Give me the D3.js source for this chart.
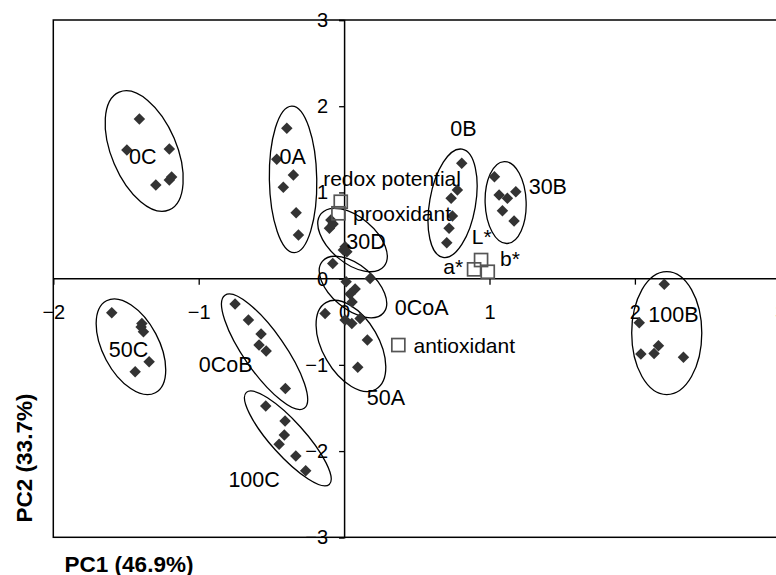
<!DOCTYPE html>
<html><head><meta charset="utf-8">
<script src="https://cdn.jsdelivr.net/npm/d3@7"></script>
<style>body{margin:0;background:#fff}svg{display:block}text{font-family:"Liberation Sans",Arial,sans-serif}</style>
</head><body><svg id="c" width="776" height="575"></svg>
<script>
// ---- data ----
const xTicks = [-2, -1, 0, 1, 2, 3];
const yTicks = [-3, -2, -1, 0, 1, 2, 3];
const xTitle = "PC1 (46.9%)";
const yTitle = "PC2 (33.7%)";

// sample scores [PC1, PC2] per group
const groups = ["0C","0A","0B","30B","30D","0CoA","50A","50C","0CoB","100C","100B"];
const scores_0C   = [[-1.408,1.852],[-1.494,1.492],[-1.202,1.503],[-1.295,1.086],[-1.202,1.144],[-1.186,1.179]];
const scores_0A   = [[-0.394,1.744],[-0.463,1.384],[-0.349,1.202],[-0.418,1.059],[-0.330,0.765],[-0.314,0.506]];
const scores_0B   = [[0.809,1.338],[0.779,1.028],[0.736,0.932],[0.745,0.726],[0.722,0.584],[0.706,0.416]];
const scores_30B  = [[1.034,1.182],[1.066,0.970],[1.123,0.932],[1.181,1.008],[1.089,0.788],[1.169,0.668]];
const scores_30D  = [[-0.091,0.680],[-0.101,0.584],[-0.076,0.633],[0.007,0.370],[-0.005,0.332],[0.019,0.312]];
const scores_0CoA = [[-0.078,0.177],[0.014,-0.036],[0.179,0.003],[0.076,-0.121],[0.041,-0.179],[0.055,-0.271]];
const scores_50A  = [[-0.131,-0.403],[0.007,-0.480],[0.053,-0.519],[0.110,-0.461],[0.160,-0.712],[0.094,-1.029]];
const scores_50C  = [[-1.598,-0.396],[-1.391,-0.519],[-1.380,-0.616],[-1.396,-0.561],[-1.341,-0.964],[-1.437,-1.080]];
const scores_0CoB = [[-0.750,-0.295],[-0.658,-0.480],[-0.571,-0.643],[-0.585,-0.770],[-0.536,-0.840],[-0.404,-1.273]];
const scores_100C = [[-0.539,-1.478],[-0.406,-1.652],[-0.411,-1.814],[-0.447,-1.922],[-0.332,-2.058],[-0.264,-2.229]];
const scores_100B = [[2.202,-0.066],[2.030,-0.512],[2.162,-0.778],[2.132,-0.867],[2.041,-0.875],[2.334,-0.913]];
const allScores = [scores_0C,scores_0A,scores_0B,scores_30B,scores_30D,scores_0CoA,scores_50A,scores_50C,scores_0CoB,scores_100C,scores_100B];

// group label anchor (data coords)
const groupLabelPos = [[-1.384,1.414],[-0.353,1.414],[0.821,1.736],[1.401,1.066],[0.151,0.425],[0.534,-0.345],[0.288,-1.389],[-1.483,-0.828],[-0.814,-1.002],[-0.619,-2.336],[2.265,-0.422]];

// group ellipses: centre (data), semi-axes (PC1 units), angle (deg)
const ellCenter = [[-1.375,1.480],[-0.351,1.152],[0.746,0.874],[1.111,0.883],[0.058,0.448],[0.061,-0.097],[0.047,-0.780],[-1.466,-0.790],[-0.547,-0.848],[-0.387,-1.853],[2.219,-0.631]];
const ellSemiA  = [0.440,0.504,0.378,0.282,0.282,0.275,0.344,0.358,0.475,0.426,0.423];
const ellSemiB  = [0.224,0.163,0.158,0.141,0.158,0.151,0.193,0.193,0.141,0.117,0.241];
const ellAngle  = [67,89,100,88,40,40,60,62,55,48,90];

// variable loadings
const loadNames = ["redox potential","prooxidant","L*","a*","b*","antioxidant"];
const loadVals  = [[-0.023,0.892],[-0.039,0.758],[0.942,0.216],[0.894,0.108],[0.988,0.080],[0.373,-0.770]];
const loadLabelPos = [[-0.144,1.163],[0.061,0.758],[0.947,0.486],[0.750,0.138],[1.141,0.239],[0.477,-0.770]];
const loadLabelAnchor = ["start","start","middle","middle","middle","start"];

// ---- chart ----
const svg = d3.select("#c");
const x = d3.scaleLinear().domain([-2,3]).range([53.3,780.3]);
const y = d3.scaleLinear().domain([-3,3]).range([537.3,20]);
const ux = v => x(v) - x(0);
const ink = "#000";

// frame
svg.append("rect").attr("x",x(-2)).attr("y",y(3)).attr("width",x(3)-x(-2)).attr("height",y(-3)-y(3))
  .attr("fill","none").attr("stroke",ink).attr("stroke-width",1.5);

// axes through origin
const xAxis = d3.axisBottom(x).tickValues(xTicks).tickSize(6).tickPadding(20).tickFormat(d3.format("d"));
const gx = svg.append("g").attr("transform",`translate(0,${y(0)})`).call(xAxis);
const yAxis = d3.axisLeft(y).tickValues(yTicks).tickSize(5).tickPadding(11).tickFormat(d3.format("d"));
const gy = svg.append("g").attr("transform",`translate(${x(0)},0)`).call(yAxis);
[gx,gy].forEach(g=>{
  g.select(".domain").attr("stroke",ink).attr("stroke-width",1.5);
  g.selectAll(".tick line").attr("stroke",ink).attr("stroke-width",1.3);
  g.selectAll(".tick text").attr("font-size",20).attr("fill",ink).attr("font-family","Liberation Sans, Arial, sans-serif");
});
gx.select(".domain").attr("d",`M${x(-2)},0H${x(3)}`);

// ellipses
const ell = svg.append("g");
groups.forEach((g,i)=>{
  const cx = x(ellCenter[i][0]), cy = y(ellCenter[i][1]);
  ell.append("ellipse").attr("cx",cx).attr("cy",cy)
    .attr("rx",ux(ellSemiA[i])).attr("ry",ux(ellSemiB[i]))
    .attr("transform",`rotate(${ellAngle[i]},${cx},${cy})`)
    .attr("fill","none").attr("stroke",ink).attr("stroke-width",1.3);
});

// score points (filled diamonds)
const pts = svg.append("g");
allScores.forEach(arr=>{
  pts.selectAll(null).data(arr).join("path")
    .attr("d", d3.symbol().type(d3.symbolSquare).size(66))
    .attr("transform",d=>`translate(${x(d[0])},${y(d[1])}) rotate(45)`)
    .attr("fill","#333");
});

// loadings (open squares)
svg.append("g").selectAll("rect").data(loadVals).join("rect")
  .attr("x",d=>x(d[0])-6.5).attr("y",d=>y(d[1])-6.5).attr("width",13).attr("height",13)
  .attr("fill","none").attr("stroke","#555").attr("stroke-width",1.7);

// group labels
svg.append("g").selectAll("text").data(groups).join("text")
  .attr("x",(d,i)=>x(groupLabelPos[i][0])).attr("y",(d,i)=>y(groupLabelPos[i][1]))
  .attr("text-anchor","middle").attr("dominant-baseline","central")
  .attr("font-size",21.5).attr("fill",ink).text(d=>d);

// loading labels
svg.append("g").selectAll("text").data(loadNames).join("text")
  .attr("x",(d,i)=>x(loadLabelPos[i][0])).attr("y",(d,i)=>y(loadLabelPos[i][1]))
  .attr("text-anchor",(d,i)=>loadLabelAnchor[i]).attr("dominant-baseline","central")
  .attr("font-size",21).attr("fill",ink).text(d=>d);

// axis titles
svg.append("text").attr("x",129).attr("y",564).attr("text-anchor","middle").attr("dominant-baseline","central")
  .attr("font-size",22.5).attr("font-weight","bold").attr("fill",ink).text(xTitle);
svg.append("text").attr("transform","translate(24,458) rotate(-90)").attr("text-anchor","middle").attr("dominant-baseline","central")
  .attr("font-size",22.5).attr("font-weight","bold").attr("fill",ink).text(yTitle);
</script></body></html>
